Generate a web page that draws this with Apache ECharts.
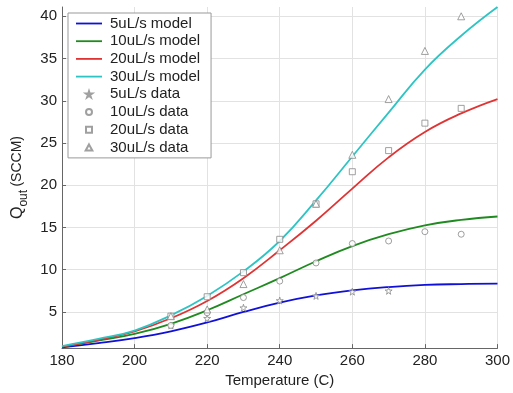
<!DOCTYPE html>
<html>
<head>
<meta charset="utf-8">
<script src="https://cdn.jsdelivr.net/npm/echarts@6/dist/echarts.min.js"></script>
<style>
  html, body { margin: 0; padding: 0; background: #fff; }
  #chart { width: 513px; height: 393px; }
</style>
</head>
<body>
<div id="chart"></div>
<script>
// model curves, sampled every 10 C
var temps = [180, 190, 200, 210, 220, 230, 240, 250, 260, 270, 280, 290, 300];
var model5 = [0.8, 1.3, 1.9, 2.7, 3.75, 5.0, 6.1, 6.95, 7.55, 7.95, 8.2, 8.3, 8.35];
var model10 = [0.9, 1.6, 2.4, 3.6, 5.2, 7.1, 9.0, 11.0, 12.8, 14.2, 15.25, 15.9, 16.3];
var model20 = [0.9, 1.7, 2.7, 4.25, 6.3, 9.0, 12.3, 15.8, 19.6, 23.3, 26.3, 28.5, 30.2];
var model30 = [0.95, 1.8, 2.8, 4.6, 6.9, 9.8, 13.4, 18.2, 23.4, 28.6, 33.7, 37.7, 41.1];

// measured points
var dataTemps = [210, 220, 230, 240, 250, 260, 270, 280, 290];
var data5 = [3.4, 4.25, 5.5, 6.35, 6.9, 7.4, 7.5, null, null];
var data10 = [3.4, 4.9, 6.7, 8.65, 10.8, 13.1, 13.4, 14.5, 14.2];
var data20 = [4.5, 6.8, 9.65, 13.6, 17.8, 21.6, 24.1, 27.35, 29.1];
var data30 = [4.5, 5.3, 8.3, 12.3, 17.8, 23.6, 30.2, 35.9, 40.0];

var yTicks = [5, 10, 15, 20, 25, 30, 35, 40];

var font = 'Liberation Sans, Arial, sans-serif';
var star = 'path://M50,0 L61,35 L98,35 L68,57 L79,91 L50,70 L21,91 L32,57 L2,35 L39,35 Z';
var square = 'path://M0,0 L10,0 L10,10 L0,10 Z';
var tri = 'path://M5,0 L10,9 L0,9 Z';
var lineIcon = 'path://M0,0 L26,0 L26,1.8 L0,1.8 Z';

function pairs(xs, ys) {
  var out = [];
  for (var i = 0; i < xs.length; i++) {
    if (ys[i] != null) out.push([xs[i], ys[i]]);
  }
  return out;
}

function modelSeries(name, vals, color) {
  return {
    name: name,
    type: 'line',
    data: pairs(temps, vals),
    smooth: 0.45,
    symbol: 'none',
    lineStyle: { color: color, width: 1.8 },
    itemStyle: { color: color },
    z: 3
  };
}

function dataSeries(name, vals, symbol, size) {
  return {
    name: name,
    type: 'scatter',
    data: pairs(dataTemps, vals),
    symbol: symbol,
    symbolSize: size,
    itemStyle: { color: '#fff', borderColor: '#888', borderWidth: 1 },
    z: 4
  };
}

var chart = echarts.init(document.getElementById('chart'));

var option = {
  animation: false,
  backgroundColor: '#fff',
  textStyle: { fontFamily: font },
  grid: { left: 62, right: 14, top: 7, bottom: 41 },
  legend: {
    orient: 'vertical',
    left: 68,
    top: 13,
    padding: [3, 11, 3, 8],
    itemWidth: 26,
    itemHeight: 6,
    itemGap: 2.7,
    borderColor: '#999',
    borderWidth: 1,
    backgroundColor: '#fff',
    textStyle: { fontFamily: font, fontSize: 15, color: '#222', lineHeight: 15, padding: [0, 0, 0, 3] },
    data: [
      { name: '5uL/s model', icon: lineIcon },
      { name: '10uL/s model', icon: lineIcon },
      { name: '20uL/s model', icon: lineIcon },
      { name: '30uL/s model', icon: lineIcon },
      { name: '5uL/s data', icon: star },
      { name: '10uL/s data', icon: 'circle' },
      { name: '20uL/s data', icon: square },
      { name: '30uL/s data', icon: tri }
    ]
  },
  xAxis: {
    type: 'value',
    min: 180,
    max: 300,
    interval: 20,
    name: 'Temperature (C)',
    nameLocation: 'middle',
    nameGap: 20,
    nameTextStyle: { fontFamily: font, fontSize: 15, color: '#222' },
    axisLine: { show: true, lineStyle: { color: '#666', width: 1 } },
    axisTick: { show: true, inside: true, length: 4, lineStyle: { color: '#666' } },
    axisLabel: { fontFamily: font, fontSize: 15, color: '#222', margin: 5 },
    splitLine: { show: true, lineStyle: { color: '#e2e2e2', width: 1 } }
  },
  yAxis: {
    type: 'value',
    min: 0.72,
    max: 41.1,
    name: '{q|Q}{o|out} {u|(SCCM)}',
    nameLocation: 'middle',
    nameRotate: 90,
    nameGap: 28,
    nameTextStyle: {
      fontFamily: font,
      color: '#222',
      rich: {
        q: { fontFamily: font, fontSize: 16, color: '#222', lineHeight: 24, verticalAlign: 'middle' },
        o: { fontFamily: font, fontSize: 12, color: '#222', lineHeight: 24, verticalAlign: 'bottom' },
        u: { fontFamily: font, fontSize: 14, color: '#222', lineHeight: 24, verticalAlign: 'middle' }
      }
    },
    axisLine: { show: true, lineStyle: { color: '#666', width: 1 } },
    axisTick: { show: true, inside: true, length: 4, lineStyle: { color: '#666' }, customValues: yTicks },
    axisLabel: { fontFamily: font, fontSize: 15, color: '#222', margin: 5, customValues: yTicks },
    splitLine: { show: true, lineStyle: { color: '#e2e2e2', width: 1 } }
  },
  series: [
    modelSeries('5uL/s model', model5, '#1010d8'),
    modelSeries('10uL/s model', model10, '#1f8a1f'),
    modelSeries('20uL/s model', model20, '#e03434'),
    modelSeries('30uL/s model', model30, '#2ec4c4'),
    dataSeries('5uL/s data', data5, star, 7),
    dataSeries('10uL/s data', data10, 'circle', 6),
    dataSeries('20uL/s data', data20, square, 6),
    dataSeries('30uL/s data', data30, tri, 7)
  ]
};

chart.setOption(option);
</script>
</body>
</html>
